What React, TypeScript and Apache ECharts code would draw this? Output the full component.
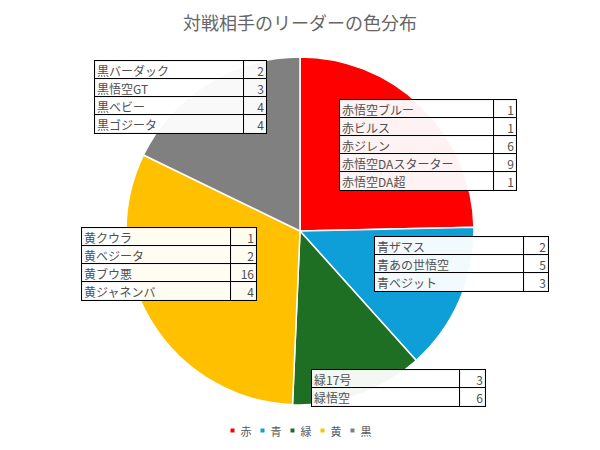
import { useEffect, useRef } from 'react';
import * as echarts from 'echarts';

// 色ごとのリーダー内訳
const colors = ['赤', '青', '緑', '黄', '黒'];
const sliceColors = ['#ff0000', '#0f9fd8', '#1e6e24', '#ffc000', '#808080'];

const redNames = ['赤悟空ブルー', '赤ビルス', '赤ジレン', '赤悟空DAスターター', '赤悟空DA超'];
const redValues = [1, 1, 6, 9, 1];
const blueNames = ['青ザマス', '青あの世悟空', '青ベジット'];
const blueValues = [2, 5, 3];
const greenNames = ['緑17号', '緑悟空'];
const greenValues = [3, 6];
const yellowNames = ['黄クウラ', '黄ベジータ', '黄ブウ悪', '黄ジャネンバ'];
const yellowValues = [1, 2, 16, 4];
const blackNames = ['黒バーダック', '黒悟空GT', '黒ベビー', '黒ゴジータ'];
const blackValues = [2, 3, 4, 4];

const groupNames = [redNames, blueNames, greenNames, yellowNames, blackNames];
const groupValues = [redValues, blueValues, greenValues, yellowValues, blackValues];

// table label placement (top-left) and column widths
const labelPos = [[340, 100], [375, 237], [312, 370], [82, 228], [95, 61]];
const nameWidths = [152, 147, 146, 147, 147];
const valueWidths = [20, 22, 23, 23, 20];

const FONT = '"Noto Sans CJK JP", "Noto Sans", sans-serif';

export default function App() {
  const chartRef = useRef<HTMLDivElement>(null);

  useEffect(() => {
    if (!chartRef.current) return;
    const chart = echarts.init(chartRef.current, null, { renderer: 'svg' });

    const cell = {
      height: 18,
      lineHeight: 18,
      fontSize: 12,
      fontFamily: FONT,
      color: '#505050',
      borderColor: '#000',
      borderWidth: 1,
      backgroundColor: 'rgba(255,255,255,0.95)',
    };

    const data = colors.map((c, i) => ({
      name: c,
      value: groupValues[i].reduce((a, b) => a + b, 0),
      itemStyle: { color: sliceColors[i] },
      label: {
        formatter: () =>
          groupNames[i].map((n, j) => `{n|${n}}{v|${groupValues[i][j]}}`).join('\n'),
        rich: {
          n: { ...cell, width: nameWidths[i], align: 'left', padding: [0, 0, 0, 2] },
          v: { ...cell, width: valueWidths[i], align: 'right', padding: [0, 2, 0, 0] },
        },
      },
    }));

    chart.setOption({
      animation: false,
      backgroundColor: '#fff',
      title: {
        text: '対戦相手のリーダーの色分布',
        left: 'center',
        top: 8,
        textStyle: { fontSize: 18, fontWeight: 'normal', color: '#666', fontFamily: FONT },
      },
      legend: {
        bottom: 9,
        left: 'center',
        icon: 'rect',
        itemWidth: 6,
        itemHeight: 6,
        itemGap: 7,
        textStyle: { fontSize: 11, color: '#595959', fontFamily: FONT },
        data: colors,
      },
      series: [
        {
          type: 'pie',
          center: [300, 231],
          radius: 174,
          startAngle: 90,
          clockwise: true,
          itemStyle: { borderColor: '#fff', borderWidth: 1.5 },
          label: { show: true, position: 'inside' },
          labelLine: { show: false },
          labelLayout: (params: any) => ({
            x: labelPos[params.dataIndex][0],
            y: labelPos[params.dataIndex][1],
            align: 'left',
            verticalAlign: 'top',
          }),
          emphasis: { disabled: true },
          data,
        },
      ],
    });

    return () => chart.dispose();
  }, []);

  return (
    <div
      ref={chartRef}
      style={{ position: 'absolute', left: 0, top: 0, width: 600, height: 450 }}
    />
  );
}
